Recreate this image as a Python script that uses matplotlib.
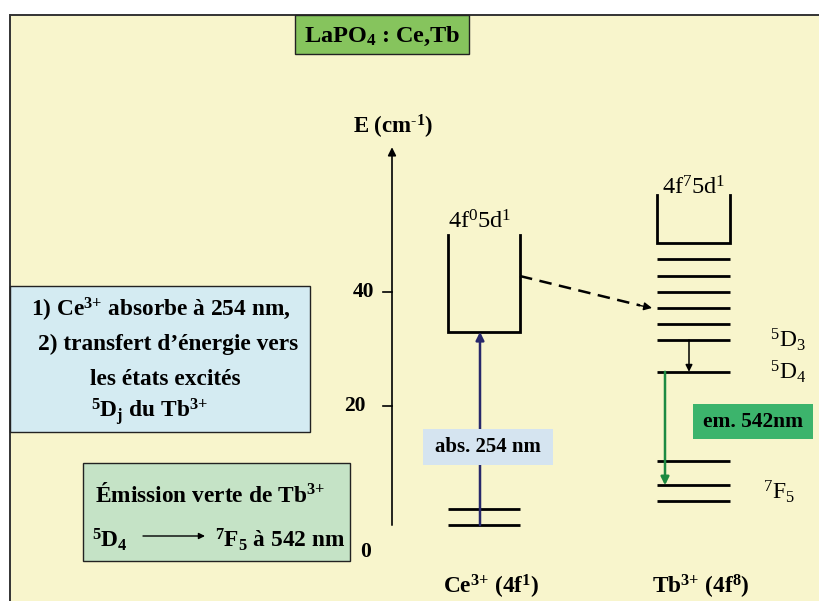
import matplotlib
matplotlib.use("Agg")
import matplotlib.pyplot as plt
from matplotlib.patches import Rectangle

plt.rcParams['mathtext.fontset'] = 'custom'
plt.rcParams['mathtext.rm'] = 'Liberation Serif'
plt.rcParams['mathtext.it'] = 'Liberation Serif:italic'
plt.rcParams['mathtext.bf'] = 'Liberation Serif:bold'
plt.rcParams['font.family'] = ['Liberation Serif', 'DejaVu Serif']

# ---------------- data (energies in 10^3 cm-1) ----------------
axis_ticks = [0, 20, 40]
tick_labels = ["0", "20", "40"]
ce_ground = [-0.9, 1.9]
ce_5d_band = [33.0, 50.0]          # bottom, top of Ce 4f0 5d1 band
tb_levels = [45.8, 42.8, 40.0, 37.2, 34.4, 31.6, 26.0, 10.4, 6.1, 3.3]
tb_5d_band = [48.6, 57.0]          # bottom, top of Tb 4f7 5d1 band
level_5D3 = 31.6
level_5D4 = 26.0
level_7F5 = 6.1
transfer_from = 42.8
transfer_to = 37.2
axis_top = 65.4
axis_bottom = -0.9

# ---------------- figure ----------------
W, H = 820, 601
fig = plt.figure(figsize=(W / 100, H / 100), dpi=100, facecolor='white')

PX0, SCALE = 520.0, 5.7          # pixel row of E = 0, pixels per unit


def Y(py):
    return (PX0 - py) / SCALE


ax = fig.add_axes([0, 0, 1, 1])
ax.set_xlim(0, W)
ax.set_ylim(Y(H), Y(0))
ax.axis('off')

SUP3 = r"$^{\mathbf{3{+}}}$"

# background panel
ax.add_patch(Rectangle((10, Y(H)), W - 10, Y(15) - Y(H), facecolor='#F8F5CC',
                       edgecolor='none', zorder=0))
ax.plot([10, W], [Y(15), Y(15)], color='#333333', lw=1.4, zorder=1,
        solid_capstyle='butt')
ax.plot([10, 10], [Y(15), Y(H)], color='#333333', lw=1.4, zorder=1)

# title box
ax.add_patch(Rectangle((295, Y(54)), 174, Y(15) - Y(54), facecolor='#86C45D',
                       edgecolor='#222222', lw=1.0, zorder=2))
ax.text(382, Y(36), r"LaPO$_{\mathbf{4}}$ : Ce,Tb", ha='center', va='center',
        fontsize=17.5, fontweight='bold', zorder=3)

# energy axis
ax.annotate('', xy=(392, axis_top), xytext=(392, axis_bottom),
            arrowprops=dict(arrowstyle='-|>', color='black', lw=1.2,
                            mutation_scale=12, shrinkA=0, shrinkB=0), zorder=3)
for t in axis_ticks[1:]:
    ax.plot([383, 392], [t, t], color='black', lw=1.2, zorder=3)
ax.text(374, 40, tick_labels[2], ha='right', va='center', fontsize=15.5,
        fontweight='bold')
ax.text(366, 20, tick_labels[1], ha='right', va='center', fontsize=15.5,
        fontweight='bold')
ax.text(366, Y(552), tick_labels[0], ha='center', va='center', fontsize=15.5,
        fontweight='bold')
ax.text(393, Y(127), r"E (cm$^{\mathbf{\text{-}1}}$)", ha='center', va='center',
        fontsize=16.5, fontweight='bold')

LW = 2.0
# Ce3+ levels
ce_x0, ce_x1 = 448, 520
ax.hlines(ce_ground, ce_x0, ce_x1, colors='black', lw=LW, zorder=3)
ax.plot([ce_x0, ce_x0, ce_x1, ce_x1],
        [ce_5d_band[1], ce_5d_band[0], ce_5d_band[0], ce_5d_band[1]],
        color='black', lw=LW, solid_joinstyle='miter', zorder=3)
ax.text(480, Y(222), r"4f$^{0}$5d$^{1}$", ha='center', va='center', fontsize=17.5)

# Tb3+ levels
tb_x0, tb_x1 = 657, 730
ax.hlines(tb_levels, tb_x0, tb_x1, colors='black', lw=LW, zorder=3)
ax.plot([tb_x0, tb_x0, tb_x1, tb_x1],
        [tb_5d_band[1], tb_5d_band[0], tb_5d_band[0], tb_5d_band[1]],
        color='black', lw=LW, solid_joinstyle='miter', zorder=3)
ax.text(694, Y(188), r"4f$^{7}$5d$^{1}$", ha='center', va='center', fontsize=17.5)
ax.text(770, level_5D3, r"$^{5}$D$_{3}$", ha='left', va='center', fontsize=17)
ax.text(770, level_5D4, r"$^{5}$D$_{4}$", ha='left', va='center', fontsize=17)
ax.text(763, Y(492), r"$^{7}$F$_{5}$", ha='left', va='center', fontsize=17)

# absorption arrow
ax.annotate('', xy=(480, ce_5d_band[0]), xytext=(480, ce_ground[0]),
            arrowprops=dict(arrowstyle='-|>', color='#27276B', lw=1.8,
                            mutation_scale=12, shrinkA=0, shrinkB=0), zorder=4)
ax.add_patch(Rectangle((423, Y(465)), 130, Y(429) - Y(465), facecolor='#D5E4F0',
                       edgecolor='none', zorder=5))
ax.text(488, Y(447), "abs. 254 nm", ha='center', va='center', fontsize=15,
        fontweight='bold', zorder=6)

# energy transfer (dashed)
ax.plot([520, 640], [transfer_from, transfer_to + 0.45], color='black', lw=1.8,
        ls=(0, (5, 3)), zorder=3)
ax.annotate('', xy=(652, transfer_to), xytext=(638, transfer_to + 0.5),
            arrowprops=dict(arrowstyle='-|>', color='black', lw=1.0,
                            mutation_scale=12, shrinkA=0, shrinkB=0), zorder=4)

# 5D3 -> 5D4 relaxation
ax.annotate('', xy=(689, level_5D4), xytext=(689, level_5D3),
            arrowprops=dict(arrowstyle='-|>', color='black', lw=1.1,
                            mutation_scale=10, shrinkA=0, shrinkB=0), zorder=4)

# green emission
ax.annotate('', xy=(665, level_7F5), xytext=(665, level_5D4),
            arrowprops=dict(arrowstyle='-|>', color='#1D8A42', lw=1.8,
                            mutation_scale=12, shrinkA=0, shrinkB=0), zorder=4)
ax.add_patch(Rectangle((693, Y(439)), 120, Y(404) - Y(439), facecolor='#3CB46C',
                       edgecolor='none', zorder=5))
ax.text(753, Y(422), "em. 542nm", ha='center', va='center', fontsize=15.5,
        fontweight='bold', zorder=6)

# bottom labels
ax.text(491, Y(587), "Ce" + SUP3 + r" (4f$^{\mathbf{1}}$)", ha='center',
        va='center', fontsize=16.8, fontweight='bold')
ax.text(701, Y(587), "Tb" + SUP3 + r" (4f$^{\mathbf{8}}$)", ha='center',
        va='center', fontsize=16.8, fontweight='bold')

# left blue box
ax.add_patch(Rectangle((10, Y(432)), 300, Y(286) - Y(432), facecolor='#D4EBF2',
                       edgecolor='#222222', lw=1.0, zorder=2))
blue_lines = [(161, 310, "1) Ce" + SUP3 + " absorbe à 254 nm,"),
              (168, 344, "2) transfert d’énergie vers"),
              (165, 380, "les états excités"),
              (150, 412, r"$^{\mathbf{5}}$D$_{\mathbf{j}}$ du Tb" + SUP3)]
for x, py, s in blue_lines:
    ax.text(x, Y(py), s, ha='center', va='center', fontsize=16.8,
            fontweight='bold', zorder=3)

# left green box
ax.add_patch(Rectangle((83, Y(561)), 267, Y(463) - Y(561), facecolor='#C5E3C6',
                       edgecolor='#222222', lw=1.0, zorder=2))
ax.text(95, Y(495), "Émission verte de Tb" + SUP3, ha='left', va='center',
        fontsize=16.8, fontweight='bold', zorder=3)
ax.text(92, Y(540), r"$^{\mathbf{5}}$D$_{\mathbf{4}}$", ha='left', va='center',
        fontsize=16.8, fontweight='bold', zorder=3)
ax.annotate('', xy=(205, Y(536)), xytext=(143, Y(536)),
            arrowprops=dict(arrowstyle='-|>', color='black', lw=1.0,
                            mutation_scale=9, shrinkA=0, shrinkB=0), zorder=3)
ax.text(215, Y(540), r"$^{\mathbf{7}}$F$_{\mathbf{5}}$ à 542 nm", ha='left',
        va='center', fontsize=16.8, fontweight='bold', zorder=3)

fig.savefig("out.png", dpi=100, facecolor='white')
